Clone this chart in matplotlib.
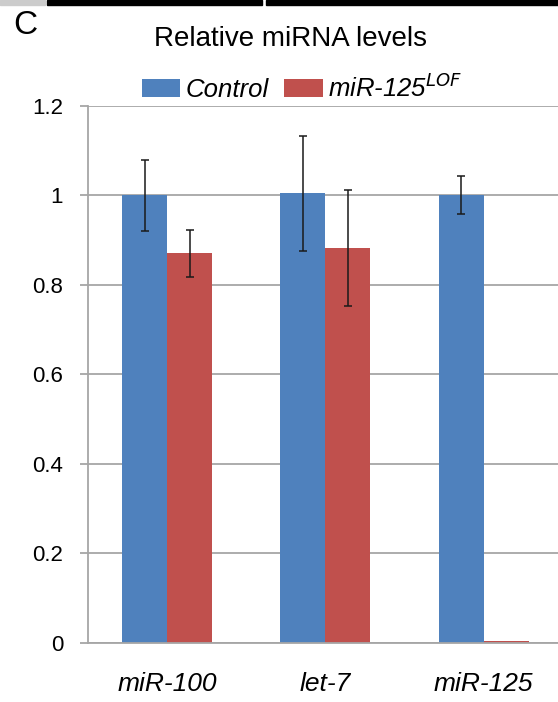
import matplotlib
matplotlib.use("Agg")
import matplotlib.pyplot as plt
import numpy as np
from matplotlib.patches import Rectangle

plt.rcParams['font.family'] = ['Liberation Sans', 'DejaVu Sans']

categories = ["miR-100", "let-7", "miR-125"]
control = [1.0, 1.004, 1.0]
control_err = [0.079, 0.128, 0.042]
lof = [0.870, 0.882, 0.004]
lof_err = [0.052, 0.13, 0.0]
yticks = [0, 0.2, 0.4, 0.6, 0.8, 1.0, 1.2]
ytick_labels = ["0", "0.2", "0.4", "0.6", "0.8", "1", "1.2"]

W, H = 558, 702
fig = plt.figure(figsize=(W/100, H/100), dpi=100)
ax = fig.add_axes([88/W, 1-643/H, 1-88/W, (643-105.6)/H])

x = np.arange(len(categories))
bw = 0.284
blue = "#4F81BD"
red = "#C0504D"
ax.bar(x - bw/2, control, bw, color=blue, zorder=2, label="Control")
ax.bar(x + bw/2, lof, bw, color=red, zorder=2, label="miR-125$^{LOF}$")
ekw = dict(fmt="none", ecolor="#1a1a1a", elinewidth=1.1, capsize=3, capthick=1.1, zorder=3)
ax.errorbar(x - bw/2, control, yerr=control_err, **ekw)
le = [(xi + bw/2, v, e) for xi, v, e in zip(x, lof, lof_err) if e > 0]
ax.errorbar([a for a, _, _ in le], [b for _, b, _ in le], yerr=[c for _, _, c in le], **ekw)

ax.set_xlim(-0.5, 2.47)
ax.set_ylim(0, 1.2)
ax.set_yticks(yticks)
ax.set_yticklabels(ytick_labels, fontsize=16)
ax.set_xticks(x)
ax.set_xticklabels(categories, fontsize=19, style="italic")
ax.yaxis.grid(True, color="#A6A6A6", linewidth=1.3, zorder=0)
ax.set_axisbelow(True)
for s in ["top", "right"]:
    ax.spines[s].set_visible(False)
ax.spines["left"].set_color("#A6A6A6")
ax.spines["bottom"].set_color("#A6A6A6")
ax.spines["left"].set_linewidth(1.3)
ax.spines["bottom"].set_linewidth(1.3)
ax.tick_params(axis="y", length=6, color="#A6A6A6", width=1.3, pad=12)
ax.tick_params(axis="x", length=0, pad=21)

h, l = ax.get_legend_handles_labels()
leg = fig.legend(h, l, loc="center", bbox_to_anchor=(302/W, 1-88/H), ncol=2, frameon=False,
                 prop=dict(size=18.5, style="italic"), handlelength=1.5, handleheight=0.7,
                 handletextpad=0.2, columnspacing=0.6, borderpad=0)

fig.text(291/W, 1-39/H, "Relative miRNA levels", fontsize=20, ha="center", va="center")
fig.text(13/W, 1-25/H, "C", fontsize=24, ha="left", va="center")

# top panel border strips
fig.patches.append(Rectangle((0, 1-5/H), 45/W, 5/H, transform=fig.transFigure, color="#CCCCCC"))
fig.patches.append(Rectangle((47/W, 1-5/H), (262-47)/W, 5/H, transform=fig.transFigure, color="black"))
fig.patches.append(Rectangle((266/W, 1-5/H), (W-266)/W, 5/H, transform=fig.transFigure, color="black"))

fig.savefig("out.png", dpi=100)
